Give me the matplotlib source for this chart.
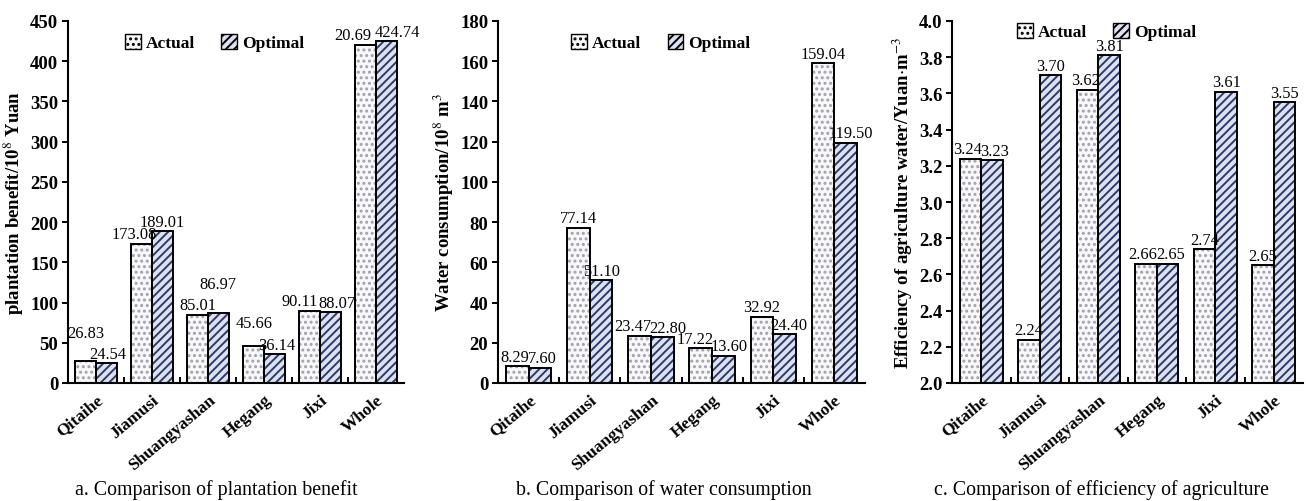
import numpy as np
import matplotlib
matplotlib.use('Agg')
import matplotlib.pyplot as plt
from matplotlib.patches import Patch

plt.rcParams['font.family'] = ['Liberation Serif', 'DejaVu Serif']
plt.rcParams['mathtext.fontset'] = 'stix'
plt.rcParams['hatch.linewidth'] = 1.4

regioes = ['Qitaihe', 'Jiamusi', 'Shuangyashan', 'Hegang', 'Jixi', 'Whole']

# a. plantation benefit
beneficio_real = [26.83, 173.08, 85.01, 45.66, 90.11, 420.69]
beneficio_otimo = [24.54, 189.01, 86.97, 36.14, 88.07, 424.74]
rotulos_beneficio_real = ['26.83', '173.08', '85.01', '45.66', '90.11', '20.69']
rotulos_beneficio_otimo = ['24.54', '189.01', '86.97', '36.14', '88.07', '424.74']

# b. water consumption
agua_real = [8.29, 77.14, 23.47, 17.22, 32.92, 159.04]
agua_otimo = [7.60, 51.10, 22.80, 13.60, 24.40, 119.50]

# c. efficiency
eficiencia_real = [3.24, 2.24, 3.62, 2.66, 2.74, 2.65]
eficiencia_otimo = [3.23, 3.70, 3.81, 2.66, 3.61, 3.55]
rotulos_eficiencia_otimo = ['3.23', '3.70', '3.81', '2.65', '3.61', '3.55']

# deslocamento dos rotulos (dx, dy em pontos) para nao encavalar, como no original
desloc_a_real = [(0, 14), (-5, 0), (0, 0), (0, 10), (-7, 0), (-9, 0)]
desloc_a_otimo = [(1, 0), (0, 0), (0, 14), (2, 0), (5, 0), (8, 0)]
desloc_b_real = [(-2, 0), (0, 0), (-5, 0), (-4, 0), (0, 0), (0, 0)]
desloc_b_otimo = [(2, 0), (0, 0), (4, 0), (4, 0), (3, 0), (4, 0)]
desloc_c_real = [(-2, 0), (0, 0), (-1, 0), (-2, 0), (0, 0), (0, 0)]
desloc_c_otimo = [(2, 0), (0, 0), (0, 0), (2, 0), (0, 0), (0, 0)]

cor_real = '#f8f8fa'
cor_pontos = '#a0a0ae'
cor_otimo = '#dce2f2'
cor_hachura = '#2f3b68'

largura = 0.37
x = np.arange(len(regioes))

fig = plt.figure(figsize=(13.06, 5.02), dpi=100)
posicoes = [
    [68/1306, 1-384/502, (404-68)/1306, (384-22)/502],
    [498/1306, 1-384/502, (865-498)/1306, (384-22)/502],
    [952/1306, 1-384/502, (1303-952)/1306, (384-22)/502],
]
centro_legendas = [216/1306, 664/1306, 1101/1306]


def desenha(ax, real, otimo, rot_real, rot_otimo, des_r, des_o, ylim, passo, ylabel, base, fmt, leg_x, leg_y):
    xr = x - largura/2
    xo = x + largura/2
    alt_r = [v - base for v in real]
    alt_o = [v - base for v in otimo]
    ax.bar(xr, alt_r, largura, bottom=base, color=cor_real, hatch='...',
           edgecolor=cor_pontos, linewidth=0)
    ax.bar(xo, alt_o, largura, bottom=base, color=cor_otimo, hatch='////',
           edgecolor=cor_hachura, linewidth=0)
    ax.bar(xr, alt_r, largura, bottom=base, fill=False, edgecolor='black', linewidth=1.4)
    ax.bar(xo, alt_o, largura, bottom=base, fill=False, edgecolor='black', linewidth=1.4)
    for i in range(len(x)):
        ax.annotate(rot_real[i], (xr[i], real[i]), xytext=(des_r[i][0], 1 + des_r[i][1]),
                    textcoords='offset points', ha='center', va='bottom', fontsize=11.8)
        ax.annotate(rot_otimo[i], (xo[i], otimo[i]), xytext=(des_o[i][0], 1 + des_o[i][1]),
                    textcoords='offset points', ha='center', va='bottom', fontsize=11.8)
    ax.set_xlim(-0.5, len(x) - 0.5)
    ax.set_ylim(*ylim)
    ax.set_yticks(np.arange(ylim[0], ylim[1] + passo/2, passo))
    if fmt:
        ax.set_yticklabels([fmt % v for v in ax.get_yticks()])
    ax.set_xticks(x)
    ax.set_xticklabels(regioes, rotation=40, ha='right', rotation_mode='anchor',
                       fontsize=12.5, fontweight='bold')
    ax.set_xticks(x[:-1] + 0.5, minor=True)
    ax.tick_params(axis='x', which='major', length=0, pad=6)
    ax.tick_params(axis='x', which='minor', direction='in', length=4, width=1.4)
    ax.tick_params(axis='y', direction='out', length=4, width=1.4, labelsize=13.5, pad=3)
    for t in ax.get_yticklabels():
        t.set_fontweight('bold')
    ax.spines['top'].set_visible(False)
    ax.spines['right'].set_visible(False)
    ax.spines['left'].set_linewidth(1.5)
    ax.spines['bottom'].set_linewidth(1.5)
    ax.set_ylabel(ylabel, fontsize=13.5, fontweight='bold', labelpad=3)
    alcas = [Patch(facecolor=cor_real, edgecolor='black', hatch='...', label='Actual'),
             Patch(facecolor=cor_otimo, edgecolor='black', hatch='////', label='Optimal')]
    ax.legend(handles=alcas, loc='center left', bbox_to_anchor=(leg_x, leg_y), ncol=2,
              frameon=False, handlelength=0.9, handleheight=0.9,
              handletextpad=0.3, columnspacing=1.5, borderpad=0, borderaxespad=0,
              prop={'weight': 'bold', 'size': 12.5})


ax1 = fig.add_axes(posicoes[0])
desenha(ax1, beneficio_real, beneficio_otimo, rotulos_beneficio_real, rotulos_beneficio_otimo,
        desloc_a_real, desloc_a_otimo,
        (0, 450), 50, 'plantation benefit/10$^8$ Yuan', 0, None, 0.17, 0.94)

ax2 = fig.add_axes(posicoes[1])
desenha(ax2, agua_real, agua_otimo, ['%.2f' % v for v in agua_real], ['%.2f' % v for v in agua_otimo],
        desloc_b_real, desloc_b_otimo,
        (0, 180), 20, 'Water consumption/10$^8$ m$^3$', 0, None, 0.2, 0.94)

ax3 = fig.add_axes(posicoes[2])
desenha(ax3, eficiencia_real, eficiencia_otimo, ['%.2f' % v for v in eficiencia_real], rotulos_eficiencia_otimo,
        desloc_c_real, desloc_c_otimo,
        (2.0, 4.0), 0.2, 'Efficiency of agriculture water/Yuan$\\cdot$m$^{-3}$', 2.0, '%.1f', 0.185, 0.97)

legendas = ['a. Comparison of plantation benefit',
            'b. Comparison of water consumption',
            'c. Comparison of efficiency of agriculture']
for cx, txt in zip(centro_legendas, legendas):
    fig.text(cx, 1 - 490/502, txt, ha='center', va='center', fontsize=14.3)

fig.savefig('out.png', dpi=100)
